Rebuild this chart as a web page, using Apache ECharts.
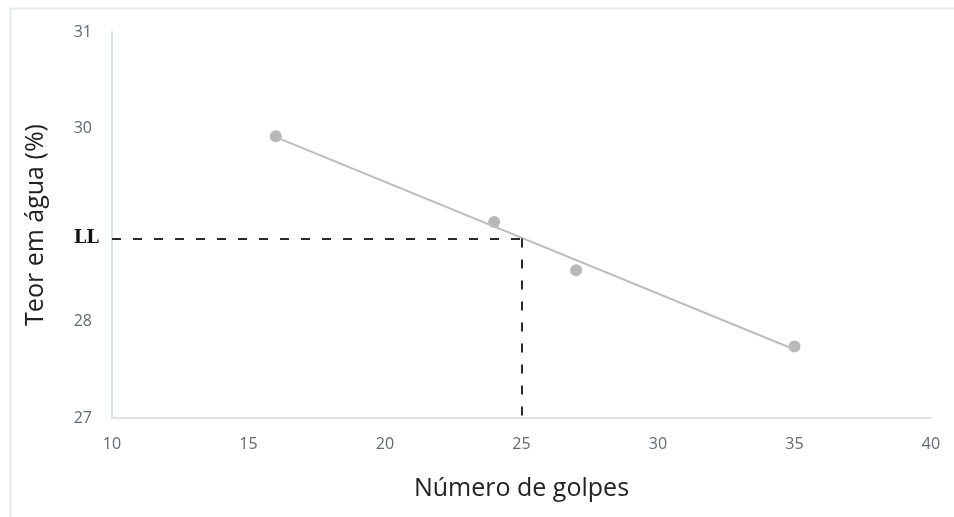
<!DOCTYPE html>
<html>
<head>
<meta charset="utf-8">
<script src="https://cdn.jsdelivr.net/npm/echarts@6/dist/echarts.min.js"></script>
<style>html,body{margin:0;padding:0;background:#fff;}#c{width:954px;height:517px;}</style>
</head>
<body>
<div id="c"></div>
<script>
// Data
const golpes = [16, 24, 27, 35];
const teor = [29.92, 29.03, 28.53, 27.74];
const trendX = [16, 35];
const trendY = [29.91, 27.71];
const llValue = 28.86;
const llGolpes = 25;
const xTicks = [10, 15, 20, 25, 30, 35, 40];
const yTicks = [27, 28, 30, 31];

const chart = echarts.init(document.getElementById('c'));
const labelColor = '#656870';
chart.setOption({
  animation: false,
  backgroundColor: '#fff',
  graphic: [{
    type: 'rect', left: 8, top: 6,
    shape: { width: 960, height: 520 },
    style: { fill: 'none', stroke: '#e6e9ee', lineWidth: 2 },
    silent: true
  }],
  grid: { left: 112, right: 23, top: 32, bottom: 99 },
  xAxis: {
    type: 'value', min: 10, max: 40, interval: 5,
    axisLine: { show: true, lineStyle: { color: '#dde1e8', width: 2 } },
    axisTick: { show: false },
    splitLine: { show: false },
    axisLabel: {
      color: labelColor, fontSize: 16, fontFamily: 'Open Sans', margin: 18,
      formatter: v => xTicks.includes(v) ? String(v) : ''
    },
    name: 'Número de golpes', nameLocation: 'middle', nameGap: 58,
    nameTextStyle: { color: '#222', fontSize: 25, fontFamily: 'Open Sans' }
  },
  yAxis: {
    type: 'value', min: 27, max: 31, interval: 1,
    axisLine: { show: true, lineStyle: { color: '#dde1e8', width: 2 } },
    axisTick: { show: false },
    splitLine: { show: false },
    axisLabel: {
      color: labelColor, fontSize: 16, fontFamily: 'Open Sans', margin: 20,
      formatter: v => yTicks.includes(v) ? String(v) : ''
    },
    name: 'Teor em água (%)', nameLocation: 'middle', nameGap: 64, nameRotate: 90,
    nameTextStyle: { color: '#222', fontSize: 25, fontFamily: 'Open Sans' }
  },
  series: [
    {
      type: 'line', silent: true,
      data: trendX.map((x, i) => [x, trendY[i]]),
      showSymbol: false, symbol: 'none',
      lineStyle: { color: '#bdbdbd', width: 2 },
      markLine: {
        silent: true, symbol: 'none',
        lineStyle: { color: '#2a2a2a', type: [9, 12], width: 2 },
        data: [
          [
            { coord: [10, llValue], label: { show: true, position: 'start', formatter: 'LL', distance: 13,
              color: '#111', fontFamily: 'DejaVu Serif', fontWeight: 'bold', fontSize: 18 } },
            { coord: [llGolpes, llValue] }
          ],
          [
            { coord: [llGolpes, llValue], label: { show: false } },
            { coord: [llGolpes, 27] }
          ]
        ]
      }
    },
    {
      type: 'scatter', silent: true,
      data: golpes.map((x, i) => [x, teor[i]]),
      symbolSize: 12,
      itemStyle: { color: '#a6a6a6' }
    }
  ]
});
</script>
</body>
</html>
